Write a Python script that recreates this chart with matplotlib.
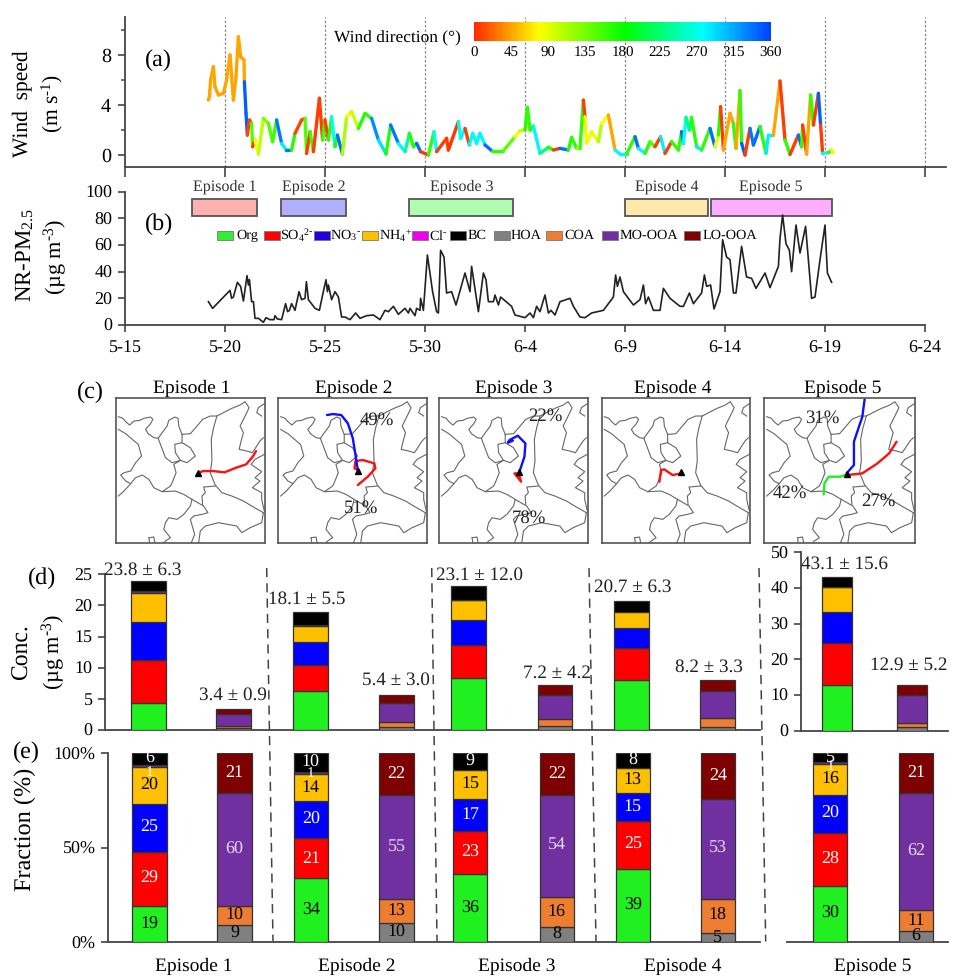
import numpy as np
import matplotlib
matplotlib.use("Agg")
import matplotlib.pyplot as plt
from matplotlib.collections import LineCollection
from matplotlib.colors import LinearSegmentedColormap
from matplotlib.lines import Line2D
from matplotlib.patches import Rectangle

plt.rcParams['font.family'] = ['Liberation Serif', 'DejaVu Serif']
plt.rcParams['mathtext.fontset'] = 'custom'
plt.rcParams['mathtext.rm'] = 'Liberation Serif'
plt.rcParams['mathtext.it'] = 'Liberation Serif:italic'
plt.rcParams['mathtext.bf'] = 'Liberation Serif:bold'
plt.rcParams['mathtext.default'] = 'regular'
plt.rcParams['text.hinting'] = 'no_hinting'

W, H = 954, 976

### wind series, days since 5-15, speed in m/s, direction in degrees ###
wind_day = [4.17, 4.22, 4.28, 4.42, 4.5, 4.67, 4.92, 5.08, 5.25, 5.42, 5.55, 5.67, 5.78, 5.95, 5.97,
            6.05, 6.12, 6.22, 6.33, 6.38, 6.5, 6.67, 6.92, 7.17, 7.38, 7.58, 7.83, 8.08, 8.33, 8.5,
            8.83, 9.0, 9.08, 9.25, 9.42, 9.72, 9.88, 10.0, 10.17, 10.33, 10.5, 10.62, 10.87, 11.08,
            11.33, 11.67, 12.0, 12.33, 12.67, 13.05, 13.28, 13.67, 14.0, 14.22, 14.42, 14.58, 14.78,
            15.17, 15.45, 15.58, 16.08, 16.17, 16.67, 16.78, 17.0, 17.22, 17.38, 17.58, 17.75, 18.0,
            18.33, 18.92, 19.5, 19.75, 20.0, 20.12, 20.25, 20.42, 20.75, 21.17, 21.42, 21.75, 22.17,
            22.33, 22.58, 22.75, 22.92, 23.0, 23.08, 23.33, 23.67, 23.83, 24.17, 24.5, 24.75, 25.08,
            25.5, 25.67, 26.0, 26.25, 26.5, 26.78, 27.0, 27.33, 27.67, 27.83, 27.92, 28.05, 28.22,
            28.33, 28.58, 28.83, 29.25, 29.5, 29.67, 29.78, 29.92, 30.25, 30.42, 30.55, 30.75, 30.83,
            31.0, 31.25, 31.42, 31.75, 32.05, 32.17, 32.42, 32.75, 33.0, 33.25, 33.67, 33.83, 33.88,
            34.08, 34.28, 34.42, 34.67, 34.78, 34.88, 35.17, 35.33, 35.42]
wind_speed = [4.38, 4.65, 5.98, 7.04, 5.44, 4.78, 4.91, 5.98, 7.97, 4.38, 6.24, 9.43, 7.84, 7.57, 5.84,
              3.32, 1.59, 2.79, 2.52, 0.66, 1.2, 0.08, 2.92, 2.52, 1.06, 2.79, 0.93, 0.35, 0.4, 1.73,
              2.79, 2.92, 0.13, 1.86, 0.27, 4.52, 1.2, 2.79, 1.2, 3.05, 0.66, 1.59, 0.08, 3.05,
              3.45, 2.12, 3.32, 2.92, 1.2, 0.08, 2.39, 0.93, 0.27, 1.73, 0.66, 0.93, 0.27,
              0.0, 1.86, 0.27, 1.33, 0.4, 2.66, 1.33, 2.12, 0.8, 1.73, 0.93, 1.73, 0.8,
              0.35, 0.35, 1.46, 1.94, 1.99, 3.8, 1.99, 2.31, 0.13, 0.61, 0.4, 0.53, 0.4,
              1.41, 0.53, 0.53, 4.38, 3.05, 0.93, 1.86, 1.06, 2.52, 3.19, 0.4, 0.08, 0.08,
              1.46, 0.53, 0.13, 1.06, 0.66, 1.46, 0.13, 1.06, 0.4, 1.86, 0.93, 3.0, 1.99,
              3.0, 0.66, 0.4, 2.12, 0.66, 1.59, 3.85, 0.4, 3.32, 2.52, 0.53, 5.13, 0.93,
              0.0, 2.12, 0.8, 2.26, 0.13, 1.59, 1.59, 5.9, 1.2, 0.05, 1.59, 0.66, 2.39,
              0.08, 4.78, 2.39, 4.91, 2.39, 0.13, 0.19, 0.4, 0.19]
wind_dir = [150, 45, 45, 45, 45, 45, 45, 45, 45, 45, 45, 45, 45, 45, 45,
            345, 345, 10, 10, 150, 8, 80, 105, 130, 150, 160, 335, 285, 335, 170,
            10, 10, 150, 8, 160, 8, 8, 160, 8, 165, 270, 170, 340, 115,
            85, 100, 170, 165, 325, 290, 170, 335, 280, 240, 170, 170, 340,
            5, 165, 275, 8, 8, 5, 270, 280, 8, 280, 270, 280, 280,
            340, 165, 145, 85, 100, 170, 165, 170, 280, 230, 170, 8, 340,
            170, 165, 110, 165, 8, 85, 85, 85, 110, 80, 45, 280, 280,
            165, 340, 280, 165, 150, 8, 285, 8, 165, 165, 345, 275, 230,
            230, 165, 285, 165, 340, 85, 170, 8, 45, 45, 165, 45, 165,
            345, 8, 335, 340, 165, 285, 285, 45, 8, 165, 8, 340, 165,
            8, 45, 165, 8, 345, 8, 280, 165, 80]

### NR-PM2.5 series ###
pm_day = [4.17, 4.38, 5.25, 5.33, 5.42, 5.62, 5.78, 5.92, 6.1, 6.17, 6.22, 6.33, 6.42, 6.5, 6.67, 6.92,
          7.05, 7.25, 7.45, 7.5, 7.62, 7.83, 8.03, 8.13, 8.22, 8.33, 8.5, 8.7, 8.83, 9.0, 9.07, 9.17,
          9.5, 9.72, 9.88, 10.05, 10.12, 10.17, 10.33, 10.5, 10.67, 10.83, 11.0, 11.25, 11.53, 11.75,
          12.08, 12.42, 12.75, 13.0, 13.17, 13.42, 13.67, 14.0, 14.17, 14.25, 14.5, 14.58, 14.75, 14.78,
          14.92, 15.12, 15.38, 15.58, 15.67, 15.78, 15.95, 16.08, 16.33, 16.55, 17.0, 17.25, 17.33,
          17.67, 17.92, 18.05, 18.17, 18.42, 18.5, 18.67, 18.78, 19.33, 19.5, 20.0, 20.25, 20.42,
          20.58, 20.75, 21.0, 21.17, 21.3, 21.5, 21.75, 22.25, 22.42, 22.75, 23.0, 23.33, 23.92,
          24.42, 24.53, 24.62, 24.75, 24.92, 25.42, 25.75, 25.92, 26.03, 26.17, 26.42, 26.75, 26.92,
          27.25, 27.75, 27.92, 28.22, 28.42, 28.83, 28.97, 29.08, 29.28, 29.45, 29.75, 29.88, 30.08,
          30.25, 30.42, 30.55, 30.83, 31.08, 31.33, 31.55, 31.75, 32.0, 32.25, 32.67, 32.75, 32.88,
          33.05, 33.22, 33.33, 33.55, 33.75, 34.03, 34.33, 34.5, 34.75, 35.0, 35.12, 35.33]
pm_conc = [17.5, 12.5, 26, 20, 21, 32, 29, 18, 37, 30, 34, 17.5, 17.5, 5, 5, 2,
           5.5, 4, 4, 7, 4.5, 4, 16, 10, 11, 16, 11, 25, 19, 20, 32.5, 19,
           12.5, 11, 22.5, 34, 25, 30, 19, 25, 21, 6, 6, 4, 9, 5,
           7, 7.5, 4, 11, 10, 14, 8, 12.5, 9, 12.5, 7, 12.5, 11, 20,
           11, 52.5, 25, 10, 9, 56, 51, 24, 25, 15, 39, 25, 44,
           10, 39, 34, 17.5, 17.5, 22.5, 15, 21, 14, 7.5, 5.5, 9, 5.5,
           14, 10, 22.5, 9, 11, 7.5, 17.5, 20, 14, 6, 5.5, 9, 11,
           21, 37.5, 29, 36, 25, 15, 19, 30, 16, 21, 11, 11, 27.5,
           20, 14, 14, 24, 16, 24, 37.5, 29, 30, 12, 25, 64, 51,
           49, 24, 24, 59, 36, 35, 27.5, 32.5, 39, 28, 44, 65, 82.5,
           61, 56, 40, 75, 54, 74, 20, 21, 49, 75, 39, 32]

date_labels = ['5-15', '5-20', '5-25', '5-30', '6-4', '6-9', '6-14', '6-19', '6-24']
dir_ticks = [0, 45, 90, 135, 180, 225, 270, 315, 360]

episode_names = ['Episode 1', 'Episode 2', 'Episode 3', 'Episode 4', 'Episode 5']
episode_start = [3.37, 7.8, 14.22, 25.0, 29.28]
episode_end = [6.58, 11.03, 19.42, 29.17, 35.33]
episode_colors = ['#ffb0b0', '#b0b0ff', '#b0ffb0', '#fde9a9', '#ffaeff']

legend_names = ['Org', 'SO$_4$$^{2\u2010}$', 'NO$_3$$^{\u2010}$', 'NH$_4$$^{+}$', 'Cl$^{\u2010}$', 'BC',
                'HOA', 'COA', 'MO-OOA', 'LO-OOA']
legend_colors = ['#33ee33', '#ff0000', '#2200dd', '#ffc000', '#ee00ee', '#000000',
                 '#808080', '#ed7d31', '#7030a0', '#7f0000']

### bars, one value per episode ###
c_org = [4.4, 6.3, 8.3, 8.0, 12.8]
c_so4 = [6.8, 4.1, 5.35, 5.1, 11.8]
c_no3 = [6.1, 3.8, 3.95, 3.2, 8.8]
c_nh4 = [4.7, 2.55, 3.25, 2.7, 6.8]
c_cl = [0.25, 0.15, 0.05, 0.0, 0.1]
c_bc = [1.6, 2.0, 2.3, 1.7, 2.8]
c_hoa = [0.27, 0.54, 0.64, 0.48, 0.93]
c_coa = [0.37, 0.69, 1.06, 1.39, 1.31]
c_mo = [1.98, 3.05, 3.9, 4.39, 7.86]
c_lo = [0.75, 1.34, 1.6, 1.84, 2.7]

f_org = [19, 34, 36, 39, 30]
f_so4 = [29, 21, 23, 25, 28]
f_no3 = [25, 20, 17, 15, 20]
f_nh4 = [20, 14, 15, 13, 16]
f_cl = [1, 1, 0, 0, 1]
f_bc = [6, 10, 9, 8, 5]
f_hoa = [9, 10, 8, 5, 6]
f_coa = [10, 13, 16, 18, 11]
f_mo = [60, 55, 54, 53, 62]
f_lo = [21, 22, 22, 24, 21]

total_labels = ['23.8 ± 6.3', '3.4 ± 0.9', '18.1 ± 5.5', '5.4 ± 3.0', '23.1 ± 12.0', '7.2 ± 4.2',
                '20.7 ± 6.3', '8.2 ± 3.3', '43.1 ± 15.6', '12.9 ± 5.2']

### province borders and trajectories, map units ###
map_lines = [
    [(8, 57), (22, 62), (30, 72), (42, 82), (55, 70), (72, 68), (85, 62), (105, 58), (112, 65), (105, 78),
     (90, 95), (98, 108), (115, 120), (128, 122), (140, 105), (155, 85), (160, 68), (178, 58), (188, 62),
     (190, 85), (200, 110), (225, 108), (245, 85), (262, 65), (285, 55), (305, 55), (330, 42), (350, 32),
     (375, 22), (390, 12), (402, 30), (395, 45), (385, 65), (375, 85), (385, 105), (378, 130), (372, 155),
     (395, 160), (412, 165), (435, 130), (445, 120)],
    [(8, 95), (30, 108), (50, 125), (68, 140), (78, 175), (60, 195), (45, 220), (25, 225), (15, 232),
     (30, 250), (45, 258), (25, 280), (8, 295)],
    [(45, 258), (60, 240), (80, 232), (100, 245), (115, 270), (140, 282), (180, 280), (205, 290), (230, 305),
     (265, 325), (278, 345), (260, 350), (235, 355), (225, 365), (238, 410), (228, 435)],
    [(128, 122), (150, 180), (170, 195), (195, 188), (180, 165), (178, 140), (200, 135), (200, 110)],
    [(200, 135), (225, 150), (240, 175), (215, 195), (195, 188), (175, 200), (182, 225), (170, 255),
     (165, 265), (140, 282)],
    [(305, 55), (295, 90), (288, 125), (290, 190), (285, 225), (300, 262), (320, 285), (350, 295), (385, 310),
     (410, 325), (445, 345)],
    [(300, 265), (265, 268), (270, 285), (260, 295), (262, 320)],
    [(448, 170), (420, 185), (408, 200), (440, 222), (420, 240), (435, 250), (412, 270), (440, 285),
     (440, 305), (448, 340)],
    [(445, 345), (440, 375), (405, 390), (380, 405), (365, 385), (310, 375), (270, 385), (255, 400), (250, 435)],
    [(230, 305), (225, 325), (205, 350), (185, 365), (160, 360), (150, 375), (145, 395), (165, 420), (150, 430),
     (145, 435)],
    [(100, 420), (115, 418), (118, 435)],
    [(100, 420), (102, 435)],
    [(448, 18), (430, 30), (425, 45), (440, 55)],
]
site_xy = [(248, 227), (241, 220), (243, 224), (242, 224), (246, 228)]
traj_red = [
    [(248, 227), (263, 220), (293, 220), (328, 224), (363, 210), (393, 200), (413, 177), (423, 160)],
    [(241, 217), (231, 212), (234, 190), (256, 187), (291, 197), (294, 212), (271, 237), (241, 262)],
    [(243, 227), (228, 227), (248, 252), (241, 230)],
    [(242, 227), (215, 232), (190, 215), (180, 217), (175, 252)],
    [(248, 232), (293, 227), (338, 197), (373, 167), (395, 132)],
]
traj_blue = [
    None,
    [(241, 217), (234, 172), (226, 122), (211, 77), (191, 52), (166, 49), (148, 52)],
    [(243, 222), (258, 177), (261, 137), (238, 114), (213, 127), (208, 135), (223, 129)],
    None,
    [(246, 227), (268, 202), (268, 132), (293, 57), (300, 4)],
]
traj_green = [None, None, None, None,
              [(246, 230), (228, 237), (193, 237), (180, 257), (178, 290)]]

fig = plt.figure(figsize=(W / 100, H / 100), dpi=100)
AXC = '#444444'


def add_ax(l, t, r, b):
    ax = fig.add_axes([l / W, 1 - b / H, (r - l) / W, (b - t) / H])
    ax.patch.set_alpha(0)
    for s in ['top', 'right']:
        ax.spines[s].set_visible(False)
    for s in ['left', 'bottom']:
        ax.spines[s].set_color(AXC)
        ax.spines[s].set_linewidth(1.3)
    ax.tick_params(color=AXC, width=1.2, length=5, pad=4)
    return ax


def txt(x, y, s, size=13, color='black', rot=0):
    fig.text(x / W, 1 - y / H, s, fontsize=size, color=color, rotation=rot,
             ha='center', va='center', rotation_mode='anchor')


### (a) wind speed ###
ax = add_ax(125, 17, 946, 167)
ax.set_xlim(0, 41.05)
ax.set_ylim(-0.956, 11)
cmap = LinearSegmentedColormap.from_list(
    'winddir', [(0, '#ff2a00'), (78 / 360, '#ffff00'), (183 / 360, '#00ff00'),
                (278 / 360, '#00ffff'), (1, '#0040ff')])
for d in range(5, 45, 5):
    ax.axvline(d, color='#888888', lw=0.9, ls=(0, (2, 1.5)), zorder=1)
pts = np.column_stack([wind_day, wind_speed])
segs = np.stack([pts[:-1], pts[1:]], axis=1)
lc = LineCollection(segs, cmap=cmap, norm=plt.Normalize(0, 360), linewidths=2.4, capstyle='round', zorder=3)
lc.set_array(np.array(wind_dir[1:]))
ax.add_collection(lc)
ax.set_xticks(range(0, 45, 5))
ax.set_xticklabels([])
ax.set_yticks([0, 4, 8])
ax.set_yticks([2, 6, 10], minor=True)
ax.tick_params(axis='y', labelsize=14.5, pad=5)
ax.tick_params(axis='y', which='minor', color=AXC, width=1.1, length=3)
ax.tick_params(axis='x', length=7)

cax = fig.add_axes([474 / W, 1 - 41 / H, 297 / W, 19 / H])
cb = fig.colorbar(plt.cm.ScalarMappable(norm=plt.Normalize(0, 360), cmap=cmap), cax=cax, orientation='horizontal')
cb.set_ticks(dir_ticks)
cb.ax.tick_params(length=0, labelsize=10.8, pad=4)
cb.outline.set_visible(False)
txt(397, 38, 'Wind direction (°)', 12.5)
txt(158, 60, '(a)', 17.5)
txt(22, 104, 'Wind  speed', 15.5, rot=90)
txt(52, 103, '(m s$^{\u20101}$)', 15.5, rot=90)

### (b) NR-PM2.5 ###
ax = add_ax(125, 191.7, 925, 325)
ax.set_xlim(0, 40)
ax.set_ylim(0, 100)
ax.plot(pm_day, pm_conc, color='#222222', lw=1.2, zorder=4, clip_on=False)
ax.set_xticks(range(0, 45, 5))
ax.set_xticklabels(date_labels)
ax.set_yticks(range(0, 120, 20))
ax.tick_params(labelsize=13)
ax.tick_params(axis='x', pad=6)
for i in range(5):
    ax.add_patch(Rectangle((episode_start[i], 81.5), episode_end[i] - episode_start[i], 13.2,
                           facecolor=episode_colors[i], edgecolor='#555555', lw=1.3, zorder=2))
    ax.text((episode_start[i] + episode_end[i]) / 2, 98.5, episode_names[i], ha='center', va='bottom',
            fontsize=11.5, color='#333333')
txt(159, 224, '(b)', 17.5)
txt(25, 255, 'NR-PM$_{2.5}$', 16.5, rot=90)
txt(55, 257, '(µg m$^{\u20103}$)', 16, rot=90)

leg_left = [217, 264, 314, 362, 412, 450, 494, 546, 602, 684]
leg_text = [236, 280, 330, 379, 429, 468, 511, 564, 620, 703]
for i in range(10):
    fig.add_artist(Rectangle((leg_left[i] / W, 1 - 239.5 / H), 16 / W, 8.5 / H, facecolor=legend_colors[i],
                             edgecolor='#777777', lw=0.6, transform=fig.transFigure))
    fig.text(leg_text[i] / W, 1 - 235.5 / H, legend_names[i], fontsize=10.3, ha='left', va='center')

### (c) maps ###
map_left = [115.7, 278, 439, 601.7, 764]
map_right = [265, 427, 588, 750, 915]
title_x = [191.7, 354, 514, 673, 843]
txt(90, 392, '(c)', 17.5)
for i in range(5):
    ax = fig.add_axes([map_left[i] / W, 1 - 542.7 / H, (map_right[i] - map_left[i]) / W, 145 / H])
    ax.set_xlim(0, 450)
    ax.set_ylim(435, 0)
    ax.set_xticks([])
    ax.set_yticks([])
    for s in ax.spines.values():
        s.set_color('#555555')
        s.set_linewidth(1.2)
    for line in map_lines:
        xy = np.array(line)
        ax.plot(xy[:, 0], xy[:, 1], color='#666666', lw=0.8)
    for traj, col in [(traj_red, '#ff1010'), (traj_blue, '#1010ff'), (traj_green, '#20f020')]:
        if traj[i] is not None:
            xy = np.array(traj[i])
            ax.plot(xy[:, 0], xy[:, 1], color=col, lw=1.7, solid_capstyle='round')
    ax.plot(site_xy[i][0], site_xy[i][1], marker='^', color='black', ms=4.5, zorder=5)
    txt(title_x[i], 388, episode_names[i], 14)
pct_x = [376.7, 361, 545.7, 529, 822.7, 790, 878]
pct_y = [420, 507.7, 415.7, 517.7, 418, 493, 501]
pct_s = ['49%', '51%', '22%', '78%', '31%', '42%', '27%']
for x, y, s in zip(pct_x, pct_y, pct_s):
    txt(x, y, s, 13.5, color='#222222')

### (d), (e) stacked bars ###
right_col = [legend_colors[i] for i in range(6, 10)]
left_conc = [c_org, c_so4, c_no3, c_nh4, c_cl, c_bc]
right_conc = [c_hoa, c_coa, c_mo, c_lo]
left_frac = [f_org, f_so4, f_no3, f_nh4, f_cl, f_bc]
right_frac = [f_hoa, f_coa, f_mo, f_lo]
left_tc = ['black', 'white', 'white', 'black', 'white', 'white']
right_tc = ['black', 'black', '#e6daf2', 'white']
cl_shift = [-3.5, 0, 0, 0, -1.5]
stack_col = ['#20f020', '#ff0000', '#0000ff', '#ffc000', '#7030a0', '#000000']


def stack(ax, x, w, vals, cols, tcols=None, shift=None):
    b = 0
    for j, v in enumerate(vals):
        if v > 0:
            ax.bar(x, v, w, bottom=b, color=cols[j], edgecolor='#333333', lw=0.9, zorder=3)
            if tcols:
                dy = shift if (shift is not None and j == 4) else 0
                fs = 11 if (shift is not None and j == 4) else 13
                ax.text(x, b + v / 2 + dy, str(v), ha='center', va='center', fontsize=fs, color=tcols[j], zorder=5)
        b += v


dax = add_ax(105, 574.3, 760, 730)
dax.set_xlim(105, 760)
dax.set_ylim(0, 25)
dax.set_yticks(range(0, 30, 5))
dax5 = add_ax(801, 552.3, 948, 730.7)
dax5.set_xlim(801, 948)
dax5.set_ylim(0, 50)
dax5.set_yticks(range(0, 60, 10))
eax = add_ax(108, 753.3, 760, 942.3)
eax.set_xlim(108, 760)
eax.set_ylim(0, 100)
eax.set_yticks([0, 50, 100])
eax.set_yticklabels(['0%', '50%', '100%'])
eax5 = add_ax(786.7, 753, 948, 942.3)
eax5.set_xlim(786.7, 948)
eax5.set_ylim(0, 100)
eax5.spines['left'].set_visible(False)
eax5.set_yticks([])
for a in [dax, dax5, eax, eax5]:
    a.set_xticks([])
    a.tick_params(axis='y', labelsize=13)

d_left_x = [148.3, 310.8, 468.8, 631.5, 837.3]
d_right_x = [233.3, 396.7, 555, 717.5, 911.7]
e_left_x = [149.7, 310.8, 470.2, 632.8, 830.2]
e_right_x = [234.5, 396.7, 556.8, 717.8, 916.2]
for i in range(5):
    a_d = dax5 if i == 4 else dax
    a_e = eax5 if i == 4 else eax
    wd = 30 if i == 4 else 34.7
    stack(a_d, d_left_x[i], wd, [v[i] for v in left_conc], stack_col)
    stack(a_d, d_right_x[i], wd, [v[i] for v in right_conc], right_col)
    stack(a_e, e_left_x[i], 34.5, [v[i] for v in left_frac], stack_col, left_tc, cl_shift[i])
    stack(a_e, e_right_x[i], 34.5, [v[i] for v in right_frac], right_col, ['black', 'black', '#e6daf2', 'white'])

tot_x = [143, 233, 307, 396, 479, 556.7, 633, 709, 845, 909]
tot_y = [570, 695, 599, 680, 575, 673, 587, 667, 564, 665]
for x, y, s in zip(tot_x, tot_y, total_labels):
    txt(x, y, s, 13.8, color='#222222')

sep_x0 = [266.7, 431.7, 589, 759]
sep_x1 = [273, 437, 596, 765.7]
for x0, x1 in zip(sep_x0, sep_x1):
    fig.add_artist(Line2D([x0 / W, x1 / W], [1 - 568 / H, 1 - 941.5 / H], color='#444444', lw=1.1,
                          ls=(0, (6, 4)), transform=fig.transFigure))

txt(42, 578, '(d)', 17.5)
txt(26, 752, '(e)', 17.5)
txt(22, 652, 'Conc.', 17, rot=90)
txt(53, 652, '(µg m$^{\u20103}$)', 16, rot=90)
txt(25, 829, 'Fraction (%)', 17.5, rot=90)
cat_x = [194, 357, 517, 683, 872.7]
for x, s in zip(cat_x, episode_names):
    txt(x, 966, s, 14)

fig.savefig('out.png', dpi=100)
